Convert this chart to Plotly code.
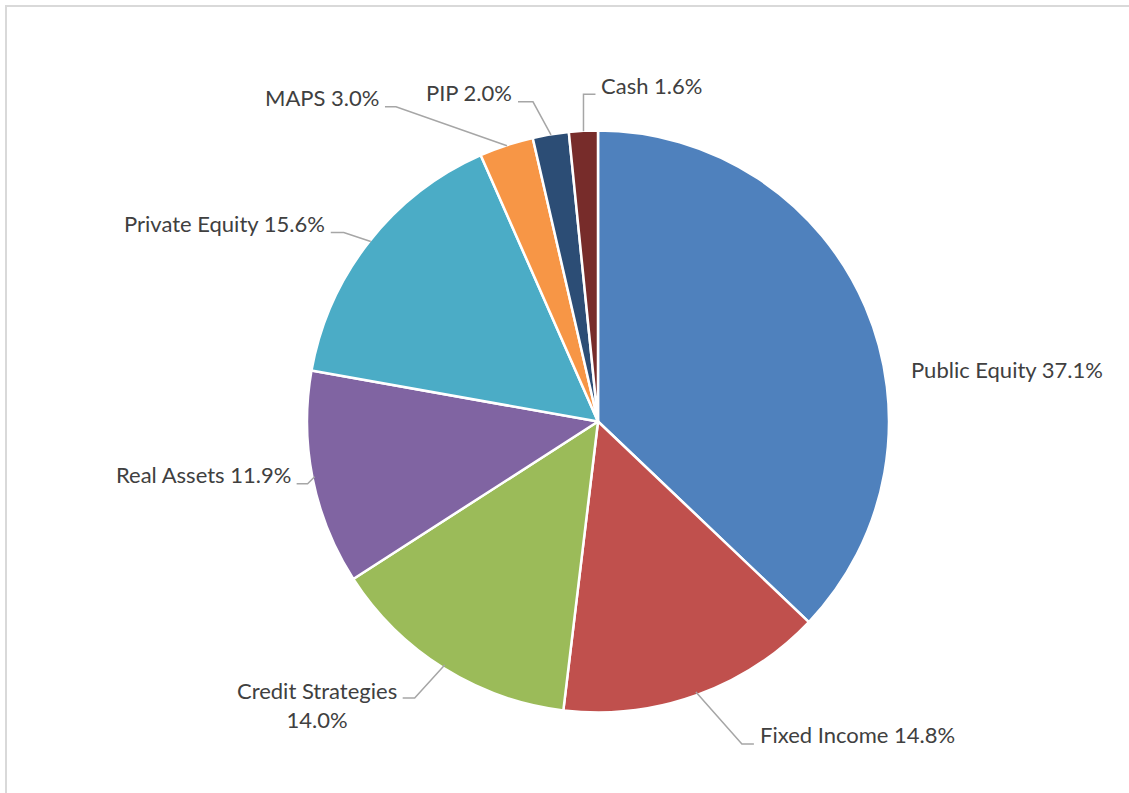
import math
import plotly.graph_objects as go

# Asset allocation (percent of total)
categories = ["Public Equity", "Fixed Income", "Credit Strategies", "Real Assets",
              "Private Equity", "MAPS", "PIP", "Cash"]
shares = [37.1, 14.8, 14.0, 11.9, 15.6, 3.0, 2.0, 1.6]
slice_colors = ["#4F81BD", "#C0504D", "#9BBB59", "#8064A2",
                "#4BACC6", "#F79646", "#2C4D75", "#772C2A"]

# Canvas and pie geometry (pixels)
W, H = 1129, 793
CX, CY, R = 598, 420, 289
# Plotly inscribes the pie slightly inside its domain, so pad the domain a little
DOM_PAD, DOM_SHIFT = 2, 1.5

# Callout layout per slice: elbow offset from the slice's outer edge (dx, dy),
# horizontal leg length (signed: + right, - left), and whether a leader is drawn.
callouts = {
    "Public Equity":     dict(dx=46, dy=72, leg=0, leader=False),
    "Fixed Income":      dict(dx=46, dy=52, leg=12, leader=True),
    "Credit Strategies": dict(dx=-30, dy=33, leg=-12, leader=True),
    "Real Assets":       dict(dx=-7, dy=7, leg=-11, leader=True),
    "Private Equity":    dict(dx=-27, dy=-9, leg=-13, leader=True),
    "MAPS":              dict(dx=-111, dy=-39, leg=-11, leader=True),
    "PIP":               dict(dx=-18, dy=-33, leg=-15, leader=True),
    "Cash":              dict(dx=0, dy=-37, leg=12, leader=True),
}

FONT = "Lato, 'Open Sans', sans-serif"
FS = 22
TEXT_COLOR = "#404040"
LEADER_COLOR = "#A6A6A6"
# Vertical distance from a leader's horizontal leg up to the label's centre line
TEXT_LIFT = 9


def px(x):
    return x / W


def py(y):
    return 1 - y / H


fig = go.Figure()
fig.add_trace(go.Pie(
    labels=categories,
    values=shares,
    sort=False,
    direction="clockwise",
    rotation=0,
    marker=dict(colors=slice_colors, line=dict(color="white", width=2.5)),
    textinfo="none",
    hoverinfo="label+percent",
    showlegend=False,
    domain=dict(
        x=[px(CX - R - DOM_PAD), px(CX + R + DOM_PAD)],
        y=[py(CY + DOM_SHIFT + R + DOM_PAD), py(CY + DOM_SHIFT - R - DOM_PAD)],
    ),
))

shapes = []
annotations = []
total = sum(shares)
cum = 0.0
for name, val in zip(categories, shares):
    mid = (cum + val / 2) / total * 2 * math.pi
    cum += val
    ex = CX + R * math.sin(mid)
    ey = CY - R * math.cos(mid)
    c = callouts[name]
    bx, by = ex + c["dx"], ey + c["dy"]
    label = f"{name} {val:.1f}%"
    if name == "Credit Strategies":
        label = f"{name}<br>{val:.1f}%"
    if c["leader"]:
        lx = bx + c["leg"]
        shapes.append(dict(
            type="path", xref="paper", yref="paper", layer="above",
            path=f"M {px(ex)},{py(ey)} L {px(bx)},{py(by)} L {px(lx)},{py(by)}",
            line=dict(color=LEADER_COLOR, width=1.5),
        ))
        gap = 5
        if c["leg"] >= 0:
            tx, xanchor = lx + gap, "left"
        else:
            tx, xanchor = lx - gap, "right"
        ty = by - TEXT_LIFT
        if "<br>" in label:
            ty = by + 7
    else:
        tx, xanchor = bx, "left"
        ty = by - TEXT_LIFT
    annotations.append(dict(
        x=px(tx), y=py(ty), xref="paper", yref="paper",
        text=label, showarrow=False, xanchor=xanchor, yanchor="middle",
        align="center", borderpad=0,
        font=dict(family=FONT, size=FS, color=TEXT_COLOR),
    ))

# Light frame around the chart area
shapes.append(dict(
    type="rect", xref="paper", yref="paper", layer="below",
    x0=px(6), y0=-0.1, x1=1.1, y1=py(6),
    line=dict(color="#D9D9D9", width=2), fillcolor="rgba(0,0,0,0)",
))

fig.update_layout(
    width=W, height=H,
    margin=dict(l=0, r=0, t=0, b=0),
    paper_bgcolor="white",
    plot_bgcolor="white",
    shapes=shapes,
    annotations=annotations,
)

fig.write_html("out.html")
